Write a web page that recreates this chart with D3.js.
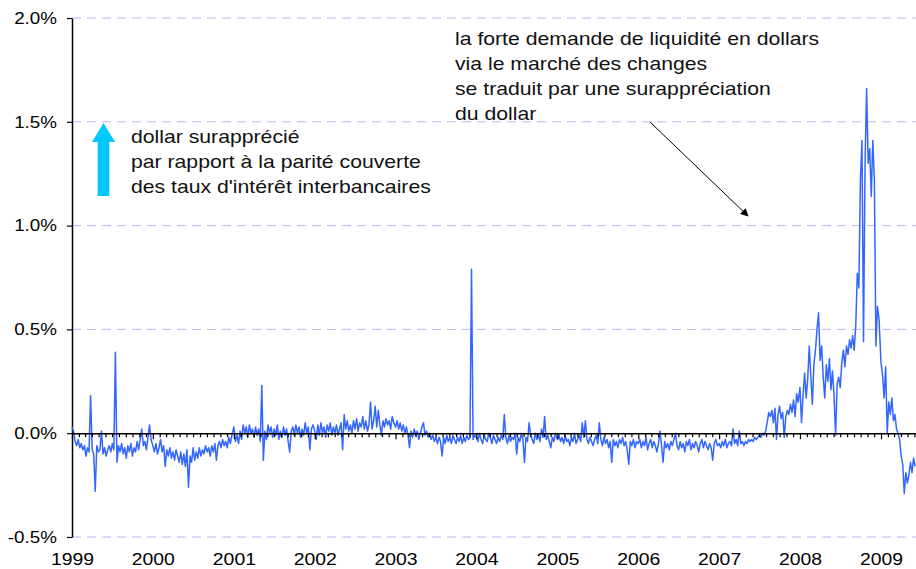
<!DOCTYPE html>
<html>
<head>
<meta charset="utf-8">
<script src="https://cdn.jsdelivr.net/npm/d3@7"></script>
<style>
  body { margin: 0; background: #fff; }
  svg { display: block; font-family: "Liberation Sans", Arial, sans-serif; }
</style>
</head>
<body>
<svg id="chart"></svg>
<script>
// weekly readings, in basis points (hundredths of a percent), one array per year
let v1999 = [3,1,-4,-6,-3,-7,-5,-8,-6,-11,-7,-9,18,-8,-10,-28,-6,-9,-8,1,-10,-7,-11,-8,-6,-9,-5,-8,39,-14,-6,-9,-5,-10,-7,-12,-6,-9,-5,-11,-7,-9,-4,-8,-3,2,-6,-4,-8,-2,4,-3]
let v2000 = [-6,-9,-5,-10,-7,-3,-9,-6,-16,-8,-11,-7,-12,-9,-13,-8,-11,-14,-9,-15,-10,-16,-8,-26,-11,-14,-7,-13,-9,-12,-7,-11,-8,-10,-6,-9,-7,-11,-6,-9,-5,-13,-6,-4,-7,-3,-6,-4,-7,-2,-5,-1]
let v2001 = [3,-4,-1,-5,1,-3,4,0,3,-2,4,0,2,-2,3,-1,2,-4,23,-13,1,-3,4,0,3,-2,2,-1,4,-3,1,-2,3,-1,2,-4,-9,1,3,-1,4,0,3,-2,2,-1,5,0,3,-8,2,4]
let v2002 = [1,-3,4,-1,5,0,3,-2,4,1,5,-1,3,0,4,-1,2,5,-8,9,2,6,1,4,0,6,2,7,1,5,3,8,2,6,1,4,15,2,6,13,3,11,4,-1,6,3,7,4,6,2,8,5]
let v2003 = [3,6,2,5,1,4,0,3,-1,-7,1,-2,2,-1,1,-3,0,3,5,-1,1,-2,0,-3,-1,-4,-2,-5,-2,-4,-11,-2,-5,-1,-4,-2,-5,-1,-3,-5,-2,-4,-1,-5,-2,-4,-1,-3,-2,79,-3,-1]
let v2004 = [-2,-4,0,-3,-5,-1,-3,-4,0,-2,-5,-1,-3,-5,-2,-4,-1,-3,9,-2,-5,-1,-4,-2,-3,0,-10,-2,-4,0,-3,-14,-2,-4,5,-1,-3,-5,0,-3,-1,-4,2,-2,8,-3,-1,-4,-7,-2,-4,0]
let v2005 = [-3,-1,-4,-2,-5,-1,-4,-3,-6,-2,-4,0,-5,-3,-1,-4,5,-2,6,-3,-5,-2,-4,-6,-3,-1,-5,5,-3,-6,-2,-5,-3,-7,-4,-14,-3,-6,-4,-7,-3,-5,-2,-6,-4,-8,-15,-4,-6,-3,-7,-4]
let v2006 = [-5,-3,-7,-4,-6,-2,-8,-5,-3,-7,-4,-6,-9,-5,1,-6,-14,-4,-7,-5,-8,-4,-6,-3,0,-6,-8,-4,-7,-5,-9,-4,-6,-3,-8,-5,-7,-4,-6,-9,-5,-3,-7,-4,-6,-8,-5,-7,-13,-5,-3,-6]
let v2007 = [-5,-7,-4,-6,-3,-7,-5,-4,-6,2,-5,-3,-6,1,-5,-4,-6,-4,-5,-3,-4,-3,-4,-2,-3,-2,-1,-2,0,-1,1,5,10,8,11,5,12,-3,9,13,7,10,-2,8,11,9,14,10,16,8,19,15]
let v2008 = [22,5,18,29,17,26,42,28,14,33,40,50,58,35,42,27,17,33,25,36,21,30,18,-1,24,27,22,34,40,32,42,38,45,41,47,40,52,77,70,122,141,44,130,166,130,137,114,141,122,42,61,55]
let v2009 = [34,28,17,32,0,15,9,17,6,9,2,0,-3,-11,-15,-29,-19,-24,-20,-14,-19,-12,-16]

let yearSeries = [v1999, v2000, v2001, v2002, v2003, v2004, v2005, v2006, v2007, v2008, v2009]
let firstYear = 1999

let yTicks = [-0.5, 0, 0.5, 1.0, 1.5, 2.0]
let gridValues = [-0.5, 0.5, 1.0, 1.5, 2.0]
let yearLabels = [1999, 2000, 2001, 2002, 2003, 2004, 2005, 2006, 2007, 2008, 2009]

let noteLeft = ['dollar surapprécié', 'par rapport à la parité couverte', "des taux d'intérêt interbancaires"]
let noteRight = ['la forte demande de liquidité en dollars', 'via le marché des changes', 'se traduit par une surappréciation', 'du dollar']

let width = 916
let height = 569
let plotLeft = 72
let plotRight = 916
let plotTop = 18
let plotBottom = 537
let stretch = 1.14 // the picture is a bit wider than tall

let svg = d3.select('#chart').attr('width', width).attr('height', height)

let values = []
yearSeries.forEach((arr, k) => {
    arr.forEach((bp, i) => {
        values.push({ date: new Date(firstYear + k, 0, 1 + 7 * i), value: bp / 100 })
    })
})

let xScale = d3.scaleTime()
    .domain([new Date(1999, 0, 1), new Date(2009, 5, 8)])
    .range([plotLeft, plotRight])

let yScale = d3.scaleLinear()
    .domain([-0.5, 2.0])
    .range([plotBottom, plotTop])

// dashed grid
svg.append('g')
    .selectAll('line')
    .data(gridValues)
    .enter()
    .append('line')
    .attr('x1', plotLeft)
    .attr('x2', plotRight)
    .attr('y1', d => yScale(d))
    .attr('y2', d => yScale(d))
    .attr('stroke', '#b8b8f4')
    .attr('stroke-width', 1)
    .attr('stroke-dasharray', '9,6')

// y axis
let yAxis = d3.axisLeft(yScale)
    .tickValues(yTicks)
    .tickSize(5)
    .tickSizeOuter(0)
    .tickPadding(0)
    .tickFormat(d => d.toFixed(1) + '%')

let gy = svg.append('g')
    .attr('transform', 'translate(' + plotLeft + ',0)')
    .call(yAxis)
gy.select('.domain').attr('stroke', '#000').attr('stroke-width', 1.5)
gy.selectAll('.tick line').attr('stroke', '#000').attr('stroke-width', 1.2)
gy.selectAll('.tick text')
    .attr('x', null)
    .attr('font-size', 16.5)
    .attr('fill', '#000')
    .attr('font-family', '"Liberation Sans", Arial, sans-serif')
    .attr('transform', 'translate(-15,0) scale(' + stretch + ',1)')

// the line
let line = d3.line()
    .x(d => xScale(d.date))
    .y(d => yScale(d.value))

svg.append('path')
    .datum(values)
    .attr('d', line)
    .attr('fill', 'none')
    .attr('stroke', '#3366ff')
    .attr('stroke-width', 1.5)
    .attr('stroke-linejoin', 'round')

// zero line with monthly ticks
let zeroAxis = d3.axisBottom(xScale)
    .ticks(d3.timeMonth.every(1))
    .tickSize(4)
    .tickSizeOuter(0)
    .tickFormat('')

let gz = svg.append('g')
    .attr('transform', 'translate(0,' + yScale(0) + ')')
    .call(zeroAxis)
gz.select('.domain').attr('stroke', '#000').attr('stroke-width', 1.6)
gz.selectAll('.tick line')
    .attr('stroke', '#000')
    .attr('stroke-width', 1.2)
    .attr('y2', d => d.getMonth() === 0 ? 6 : 4)

// year labels
let xAxis = d3.axisBottom(xScale)
    .tickValues(yearLabels.map(y => new Date(y, 0, 1)))
    .tickSize(0)
    .tickPadding(16)
    .tickFormat(d3.timeFormat('%Y'))

let gx = svg.append('g')
    .attr('transform', 'translate(0,' + plotBottom + ')')
    .call(xAxis)
gx.select('.domain').remove()
gx.selectAll('.tick text')
    .attr('font-size', 17)
    .attr('fill', '#000')
    .attr('font-family', '"Liberation Sans", Arial, sans-serif')
    .attr('transform', 'scale(' + stretch + ',1)')
    .attr('x', 0)

// cyan arrow
let ax = 103.5
svg.append('path')
    .attr('d', 'M' + (ax - 5.8) + ',196 L' + (ax - 5.8) + ',142 L' + (ax - 11.5) + ',142 L' + ax + ',123 L' + (ax + 11.5) + ',142 L' + (ax + 5.8) + ',142 L' + (ax + 5.8) + ',196 Z')
    .attr('fill', '#00c8fa')

let notes = svg.append('g')
    .attr('font-size', 18.6)
    .attr('fill', '#111')

noteLeft.forEach((t, i) => {
    notes.append('text')
        .attr('transform', 'translate(131,' + (143 + i * 24.8) + ') scale(' + stretch + ',1)')
        .text(t)
})

noteRight.forEach((t, i) => {
    notes.append('text')
        .attr('transform', 'translate(455,' + (45 + i * 25) + ') scale(' + stretch + ',1)')
        .text(t)
})

// black pointer arrow
svg.append('defs').append('marker')
    .attr('id', 'head')
    .attr('viewBox', '0 0 10 10')
    .attr('refX', 9)
    .attr('refY', 5)
    .attr('markerWidth', 8)
    .attr('markerHeight', 8)
    .attr('markerUnits', 'userSpaceOnUse')
    .attr('orient', 'auto')
    .append('path')
    .attr('d', 'M0,0 L10,5 L0,10 Z')
    .attr('fill', '#000')

svg.append('line')
    .attr('x1', 650)
    .attr('y1', 122)
    .attr('x2', 748)
    .attr('y2', 216)
    .attr('stroke', '#000')
    .attr('stroke-width', 1)
    .attr('marker-end', 'url(#head)')
</script>
</body>
</html>
